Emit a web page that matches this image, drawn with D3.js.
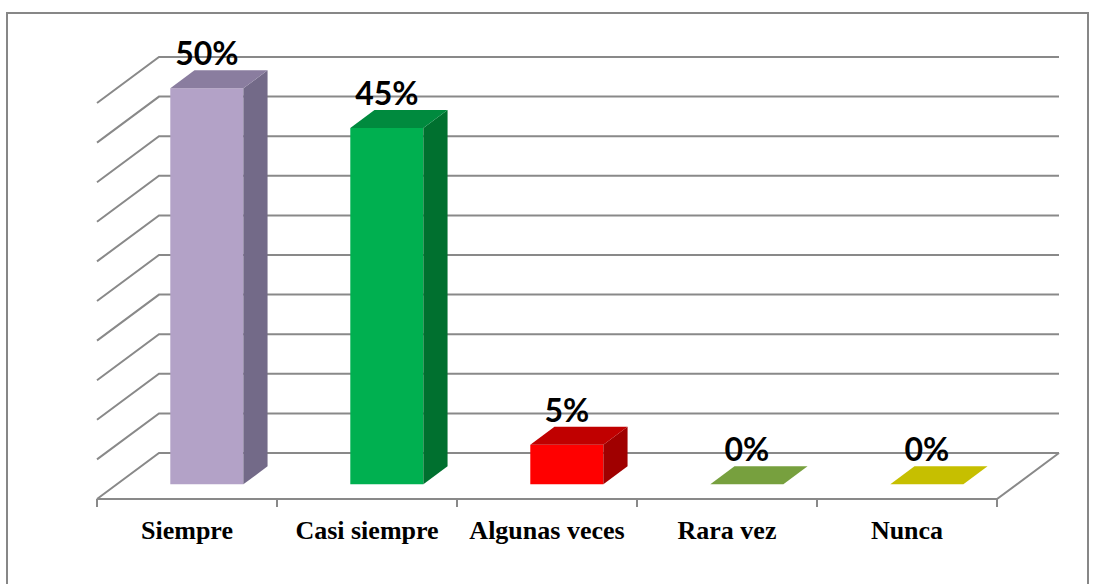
<!DOCTYPE html>
<html>
<head>
<meta charset="utf-8">
<script src="https://cdn.jsdelivr.net/npm/d3@7/dist/d3.min.js"></script>
<style>
html,body{margin:0;padding:0;background:#fff;}
svg{display:block;}
</style>
</head>
<body>
<svg id="chart" width="1094" height="584"></svg>
<script>
// ---- data ----
const categories = ["Siempre", "Casi siempre", "Algunas veces", "Rara vez", "Nunca"];
const values = [50, 45, 5, 0, 0];
const valueLabels = ["50%", "45%", "5%", "0%", "0%"];
const frontColors = ["#b3a2c7", "#00b050", "#ff0000", "#77a03e", "#c6bf00"];
const topColors   = ["#8a7d9f", "#008a3e", "#c00000", "#77a03e", "#c6bf00"];
const sideColors  = ["#736a88", "#00702f", "#a00000", "#5f8030", "#a09a00"];
const gridTicks = [0, 5, 10, 15, 20, 25, 30, 35, 40, 45, 50];

// ---- layout ----
const svg = d3.select("#chart");
const X0 = 97, X1 = 997, YF = 499, DX = 62, DY = 46;
const F0 = 0.32, F1 = 0.71; // bar front/back depth fractions
const gridColor = "#898989";

const x = d3.scaleBand().domain(categories).range([X0, X1]).paddingInner(0.594).paddingOuter(0.297);
const step = x.step();
const h = d3.scaleLinear().domain([0, 50]).range([0, 396]);

// projection: front-line x, value, depth fraction -> screen
const P = (px, v, f) => [px + DX * f, YF - h(v) - DY * f];

// border
svg.append("path")
  .attr("d", "M7,600 V13 H1088 V600")
  .attr("fill", "none").attr("stroke", "#878787").attr("stroke-width", 2);

// grid lines: back wall + left wall
const grid = svg.append("g").attr("stroke", gridColor).attr("stroke-width", 2).attr("fill", "none");
gridTicks.forEach(t => {
  const a = P(X0, t, 0), b = P(X0, t, 1), c = P(X1, t, 1);
  grid.append("path").attr("d", `M${a[0]},${a[1]} L${b[0]},${b[1]} L${c[0]},${c[1]}`);
});

// floor edges
{
  const a = P(X0, 0, 0), b = P(X1, 0, 0), c = P(X1, 0, 1);
  grid.append("path").attr("d", `M${a[0]},${a[1]} L${b[0]},${b[1]} L${c[0]},${c[1]}`);
}

// ticks
const tickXs = d3.range(categories.length + 1).map(i => X0 + i * step);
grid.selectAll("line.tick").data(tickXs).enter().append("line")
  .attr("x1", d => d).attr("x2", d => d)
  .attr("y1", YF).attr("y2", YF + 8);

// bars
const bars = svg.append("g");
const poly = pts => "M" + pts.map(p => p.join(",")).join("L") + "Z";
categories.forEach((cat, i) => {
  const v = values[i];
  const xl = x(cat), xr = x(cat) + x.bandwidth();
  const g = bars.append("g");
  if (v > 0) {
    // front
    g.append("path").attr("d", poly([P(xl, 0, F0), P(xr, 0, F0), P(xr, v, F0), P(xl, v, F0)]))
      .attr("fill", frontColors[i]);
    // side
    g.append("path").attr("d", poly([P(xr, 0, F0), P(xr, 0, F1), P(xr, v, F1), P(xr, v, F0)]))
      .attr("fill", sideColors[i]);
  }
  // top
  g.append("path").attr("d", poly([P(xl, v, F0), P(xr, v, F0), P(xr, v, F1), P(xl, v, F1)]))
    .attr("fill", topColors[i]);
});

// value labels
categories.forEach((cat, i) => {
  const v = values[i];
  const cx = x(cat) + x.bandwidth() / 2 + DX * F0;
  const yb = P(0, v, F1)[1] - 5;
  svg.append("text")
    .attr("x", cx).attr("y", yb)
    .attr("text-anchor", "middle")
    .attr("font-family", "Lato, 'Open Sans', sans-serif")
    .attr("font-weight", "bold")
    .attr("font-size", 32)
    .attr("fill", "#000")
    .text(valueLabels[i]);
});

// category labels
svg.selectAll("text.cat").data(categories).enter().append("text")
  .attr("class", "cat")
  .attr("x", d => x(d) + x.bandwidth() / 2)
  .attr("y", 539)
  .attr("text-anchor", "middle")
  .attr("font-family", "'Liberation Serif', 'Times New Roman', serif")
  .attr("font-weight", "bold")
  .attr("font-size", 26)
  .attr("fill", "#000")
  .text(d => d);
</script>
</body>
</html>
